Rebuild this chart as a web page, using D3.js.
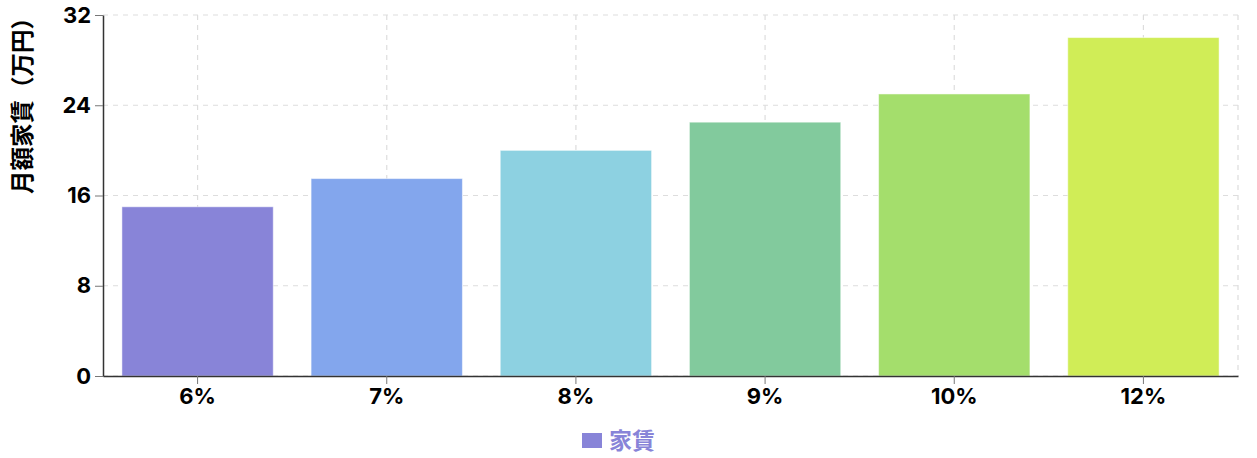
<!DOCTYPE html>
<html><head><meta charset="utf-8">
<script src="https://cdn.jsdelivr.net/npm/d3@7"></script>
<style>
html,body{margin:0;padding:0;background:#fff;}
svg{display:block;font-family:Inter,"Noto Sans CJK JP",sans-serif;}
</style></head>
<body><svg id="chart" width="1257" height="458"></svg>
<script>
const categories = ["6%", "7%", "8%", "9%", "10%", "12%"];
const rentValues = [15, 17.5, 20, 22.5, 25, 30];
const yTicks = [0, 8, 16, 24, 32];
const barColors = ["#8884d8", "#83a6ed", "#8dd1e1", "#82ca9d", "#a4de6c", "#d0ed57"];
const seriesName = "家賃";
const yTitle = "月額家賃（万円）";

const svg = d3.select("#chart");
const mLeft = 103, mRight = 1238, mTop = 15, mBottom = 376;

const x = d3.scaleBand().domain(categories).range([mLeft, mRight]).paddingInner(0.2).paddingOuter(0.1);
const y = d3.scaleLinear().domain([0, 32]).range([mBottom, mTop]);

// grid
const grid = svg.append("g").attr("stroke", "#ddd").attr("stroke-dasharray", "5 5").attr("stroke-width", 1.2);
grid.selectAll("line.h").data(yTicks).join("line")
  .attr("x1", mLeft).attr("x2", mRight).attr("y1", d => y(d)).attr("y2", d => y(d));
grid.selectAll("line.v").data(categories).join("line")
  .attr("x1", d => x(d) + x.bandwidth()/2).attr("x2", d => x(d) + x.bandwidth()/2)
  .attr("y1", mTop).attr("y2", mBottom);
grid.append("line").attr("x1", mRight).attr("x2", mRight).attr("y1", mTop).attr("y2", mBottom);

// bars
svg.append("g").selectAll("rect").data(rentValues).join("rect")
  .attr("x", (d, i) => x(categories[i]))
  .attr("width", x.bandwidth())
  .attr("y", d => y(d))
  .attr("height", d => y(0) - y(d))
  .attr("fill", (d, i) => barColors[i])
  .attr("stroke", "#fff").attr("stroke-opacity", 0.5);

// axes
const yAxis = svg.append("g").attr("transform", `translate(${mLeft},0)`)
  .call(d3.axisLeft(y).tickValues(yTicks).tickSizeInner(8).tickSizeOuter(0).tickPadding(4));
const xAxis = svg.append("g").attr("transform", `translate(0,${mBottom})`)
  .call(d3.axisBottom(x).tickSizeInner(8).tickSizeOuter(0).tickPadding(4));
[yAxis, xAxis].forEach(a => {
  a.attr("font-size", 22).attr("font-family", "Inter, sans-serif").attr("font-weight", 700);
  a.select(".domain").attr("stroke", "#333").attr("stroke-width", 1.5);
  a.selectAll(".tick line").attr("stroke", "#777");
  a.selectAll(".tick text").attr("fill", "#000");
});

// y title
svg.append("text")
  .attr("transform", "translate(31,100) rotate(-90)")
  .attr("text-anchor", "middle")
  .attr("font-size", 23.5).attr("font-weight", 700).attr("fill", "#000")
  .attr("font-family", "'Noto Sans CJK JP', sans-serif")
  .text(yTitle);

// legend
const lg = svg.append("g");
lg.append("rect").attr("x", 582).attr("y", 433).attr("width", 20).attr("height", 15).attr("fill", barColors[0]);
lg.append("text").attr("x", 609).attr("y", 441).attr("dy", "0.35em")
  .attr("font-size", 23).attr("font-weight", 700).attr("fill", barColors[0])
  .attr("font-family", "'Noto Sans CJK JP', sans-serif")
  .text(seriesName);
</script></body></html>
